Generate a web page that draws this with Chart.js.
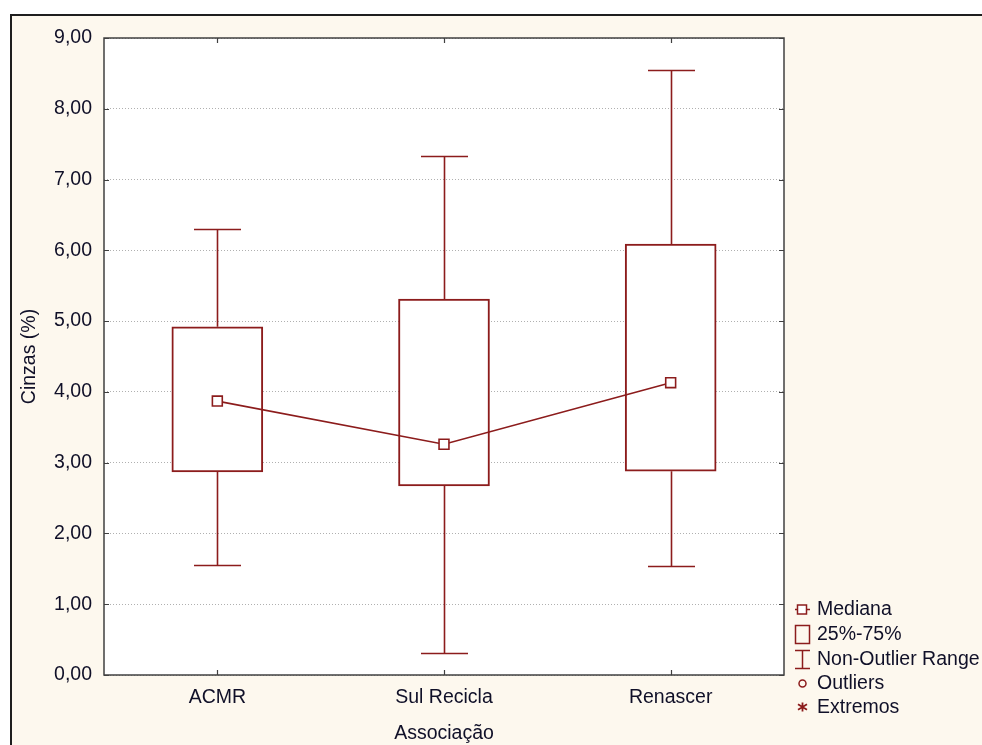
<!DOCTYPE html>
<html><head><meta charset="utf-8">
<script src="https://cdn.jsdelivr.net/npm/chart.js@4/dist/chart.umd.min.js"></script>
<style>
html,body{margin:0;padding:0;background:#fff;overflow:hidden;}
#frame{position:absolute;left:10px;top:14px;width:1000px;height:800px;border:2px solid #1e1e1e;background:#fdf8ee;}
#c{position:absolute;left:0;top:0;}
</style></head><body>
<div id="frame"></div>
<canvas id="c" width="982" height="745"></canvas>
<script>
// Ash content (%) by association: box = quartiles, whiskers = non-outlier range
const categories = ['ACMR', 'Sul Recicla', 'Renascer'];
const whiskerLow  = [1.55, 0.31, 1.54];
const quartile1   = [2.87, 2.67, 2.88];
const medians     = [3.87, 3.26, 4.13];
const quartile3   = [4.92, 5.31, 6.09];
const whiskerHigh = [6.30, 7.33, 8.55];
const legendLabels = ['Mediana', '25%-75%', 'Non-Outlier Range', 'Outliers', 'Extremos'];

const RED = '#8c1c1c';
const FONT = '"Liberation Sans", Arial, sans-serif';
const FSIZE = 19.5;
const TEXT = '#101028';

const boxRanges = categories.map((_, i) => [quartile1[i], quartile3[i]]);

const plotBackground = {
  id: 'plotBackground',
  beforeDraw(chart) {
    const {ctx, chartArea: a} = chart;
    ctx.save();
    ctx.fillStyle = '#ffffff';
    ctx.fillRect(a.left, a.top, a.right - a.left, a.bottom - a.top);
    ctx.restore();
  }
};

const whiskers = {
  id: 'whiskers',
  beforeDatasetsDraw(chart) {
    const {ctx, scales: {x, y}} = chart;
    const cap = 23.5;
    ctx.save();
    ctx.strokeStyle = RED;
    ctx.lineWidth = 1.6;
    categories.forEach((_, i) => {
      const cx = Math.round(x.getPixelForValue(i)) + 0.5;
      const pairs = [[quartile3[i], whiskerHigh[i]], [quartile1[i], whiskerLow[i]]];
      pairs.forEach(([from, to]) => {
        const y0 = y.getPixelForValue(from);
        const y1 = Math.round(y.getPixelForValue(to)) + 0.5;
        ctx.beginPath();
        ctx.moveTo(cx, y0);
        ctx.lineTo(cx, y1);
        ctx.moveTo(cx - cap, y1);
        ctx.lineTo(cx + cap, y1);
        ctx.stroke();
      });
    });
    ctx.restore();
  }
};

const plotFrame = {
  id: 'plotFrame',
  afterDraw(chart) {
    const {ctx, chartArea: a, scales: {x, y}} = chart;
    ctx.save();
    ctx.strokeStyle = '#404040';
    ctx.lineWidth = 1.5;
    ctx.strokeRect(a.left, a.top, a.right - a.left, a.bottom - a.top);
    ctx.lineWidth = 1.2;
    ctx.beginPath();
    y.ticks.forEach(t => {
      const py = Math.round(y.getPixelForValue(t.value)) + 0.5;
      ctx.moveTo(a.left, py); ctx.lineTo(a.left + 5, py);
      ctx.moveTo(a.right, py); ctx.lineTo(a.right - 5, py);
    });
    categories.forEach((_, i) => {
      const px = Math.round(x.getPixelForValue(i)) + 0.5;
      ctx.moveTo(px, a.bottom); ctx.lineTo(px, a.bottom - 5);
      ctx.moveTo(px, a.top); ctx.lineTo(px, a.top + 5);
    });
    ctx.stroke();
    ctx.restore();
  }
};

const boxLegend = {
  id: 'boxLegend',
  afterDraw(chart) {
    const {ctx} = chart;
    const sx = 802, tx = 817;
    const rows = [609, 634, 659, 683, 707];
    ctx.save();
    ctx.strokeStyle = RED;
    ctx.lineWidth = 1.5;
    // Mediana: line with square marker
    ctx.beginPath();
    ctx.moveTo(795, rows[0] + 0.5); ctx.lineTo(797.5, rows[0] + 0.5);
    ctx.moveTo(806.5, rows[0] + 0.5); ctx.lineTo(810, rows[0] + 0.5);
    ctx.stroke();
    ctx.fillStyle = '#fff';
    ctx.fillRect(797.5, rows[0] - 4, 9, 9);
    ctx.strokeRect(797.5, rows[0] - 4, 9, 9);
    // 25%-75%: box
    ctx.strokeRect(795.5, rows[1] - 8.5, 14, 18);
    // Non-Outlier Range: whisker
    ctx.beginPath();
    ctx.moveTo(sx + 0.5, rows[2] - 9); ctx.lineTo(sx + 0.5, rows[2] + 10);
    ctx.moveTo(795, rows[2] - 8.5); ctx.lineTo(810, rows[2] - 8.5);
    ctx.moveTo(795, rows[2] + 9.5); ctx.lineTo(810, rows[2] + 9.5);
    ctx.stroke();
    // Outliers: small circle
    ctx.beginPath();
    ctx.arc(sx + 0.5, rows[3] + 0.5, 3.5, 0, Math.PI * 2);
    ctx.stroke();
    // Extremos: asterisk
    ctx.lineWidth = 1.8;
    ctx.beginPath();
    const r = 4.5;
    ctx.moveTo(sx + 0.5, rows[4] - r); ctx.lineTo(sx + 0.5, rows[4] + r);
    ctx.moveTo(sx - r + 0.5, rows[4] - r * 0.6); ctx.lineTo(sx + r + 0.5, rows[4] + r * 0.6);
    ctx.moveTo(sx - r + 0.5, rows[4] + r * 0.6); ctx.lineTo(sx + r + 0.5, rows[4] - r * 0.6);
    ctx.stroke();
    ctx.fillStyle = TEXT;
    ctx.font = FSIZE + 'px ' + FONT;
    ctx.textBaseline = 'middle';
    ctx.textAlign = 'left';
    legendLabels.forEach((t, i) => ctx.fillText(t, tx, rows[i] + 1));
    ctx.restore();
  }
};

new Chart(document.getElementById('c'), {
  type: 'bar',
  data: {
    labels: categories,
    datasets: [
      {
        type: 'line',
        label: 'Mediana',
        data: medians,
        borderColor: RED,
        borderWidth: 1.6,
        pointStyle: 'rect',
        pointRadius: 7,
        pointBorderWidth: 1.6,
        pointBackgroundColor: '#ffffff',
        pointBorderColor: RED,
        tension: 0,
        order: 0
      },
      {
        label: '25%-75%',
        data: boxRanges,
        backgroundColor: '#ffffff',
        borderColor: RED,
        borderWidth: 2,
        borderSkipped: false,
        barThickness: 91,
        order: 1
      }
    ]
  },
  options: {
    responsive: false,
    devicePixelRatio: 1,
    animation: false,
    layout: {padding: {left: 0, top: 38, right: 198, bottom: 0}},
    plugins: {legend: {display: false}, tooltip: {enabled: false}},
    scales: {
      x: {
        offset: true,
        grid: {display: false, drawTicks: false},
        border: {display: false},
        ticks: {color: TEXT, font: {family: FONT, size: FSIZE}, padding: 11},
        title: {display: true, text: 'Associação', color: TEXT, font: {family: FONT, size: FSIZE}, padding: {top: 0, bottom: 0}},
        afterFit(s) { s.height = 70; }
      },
      y: {
        min: 0, max: 9,
        grid: {color: '#b0b0b0', lineWidth: 1, drawTicks: false},
        border: {display: false, dash: [1, 2]},
        ticks: {
          stepSize: 1,
          color: TEXT,
          font: {family: FONT, size: FSIZE},
          padding: 12,
          callback: v => v.toFixed(2).replace('.', ',')
        },
        title: {display: true, text: 'Cinzas (%)', color: TEXT, font: {family: FONT, size: FSIZE}, padding: {top: 18, bottom: 0}},
        afterFit(s) { s.width = 104; }
      }
    }
  },
  plugins: [plotBackground, whiskers, plotFrame, boxLegend]
});
</script>
</body></html>
